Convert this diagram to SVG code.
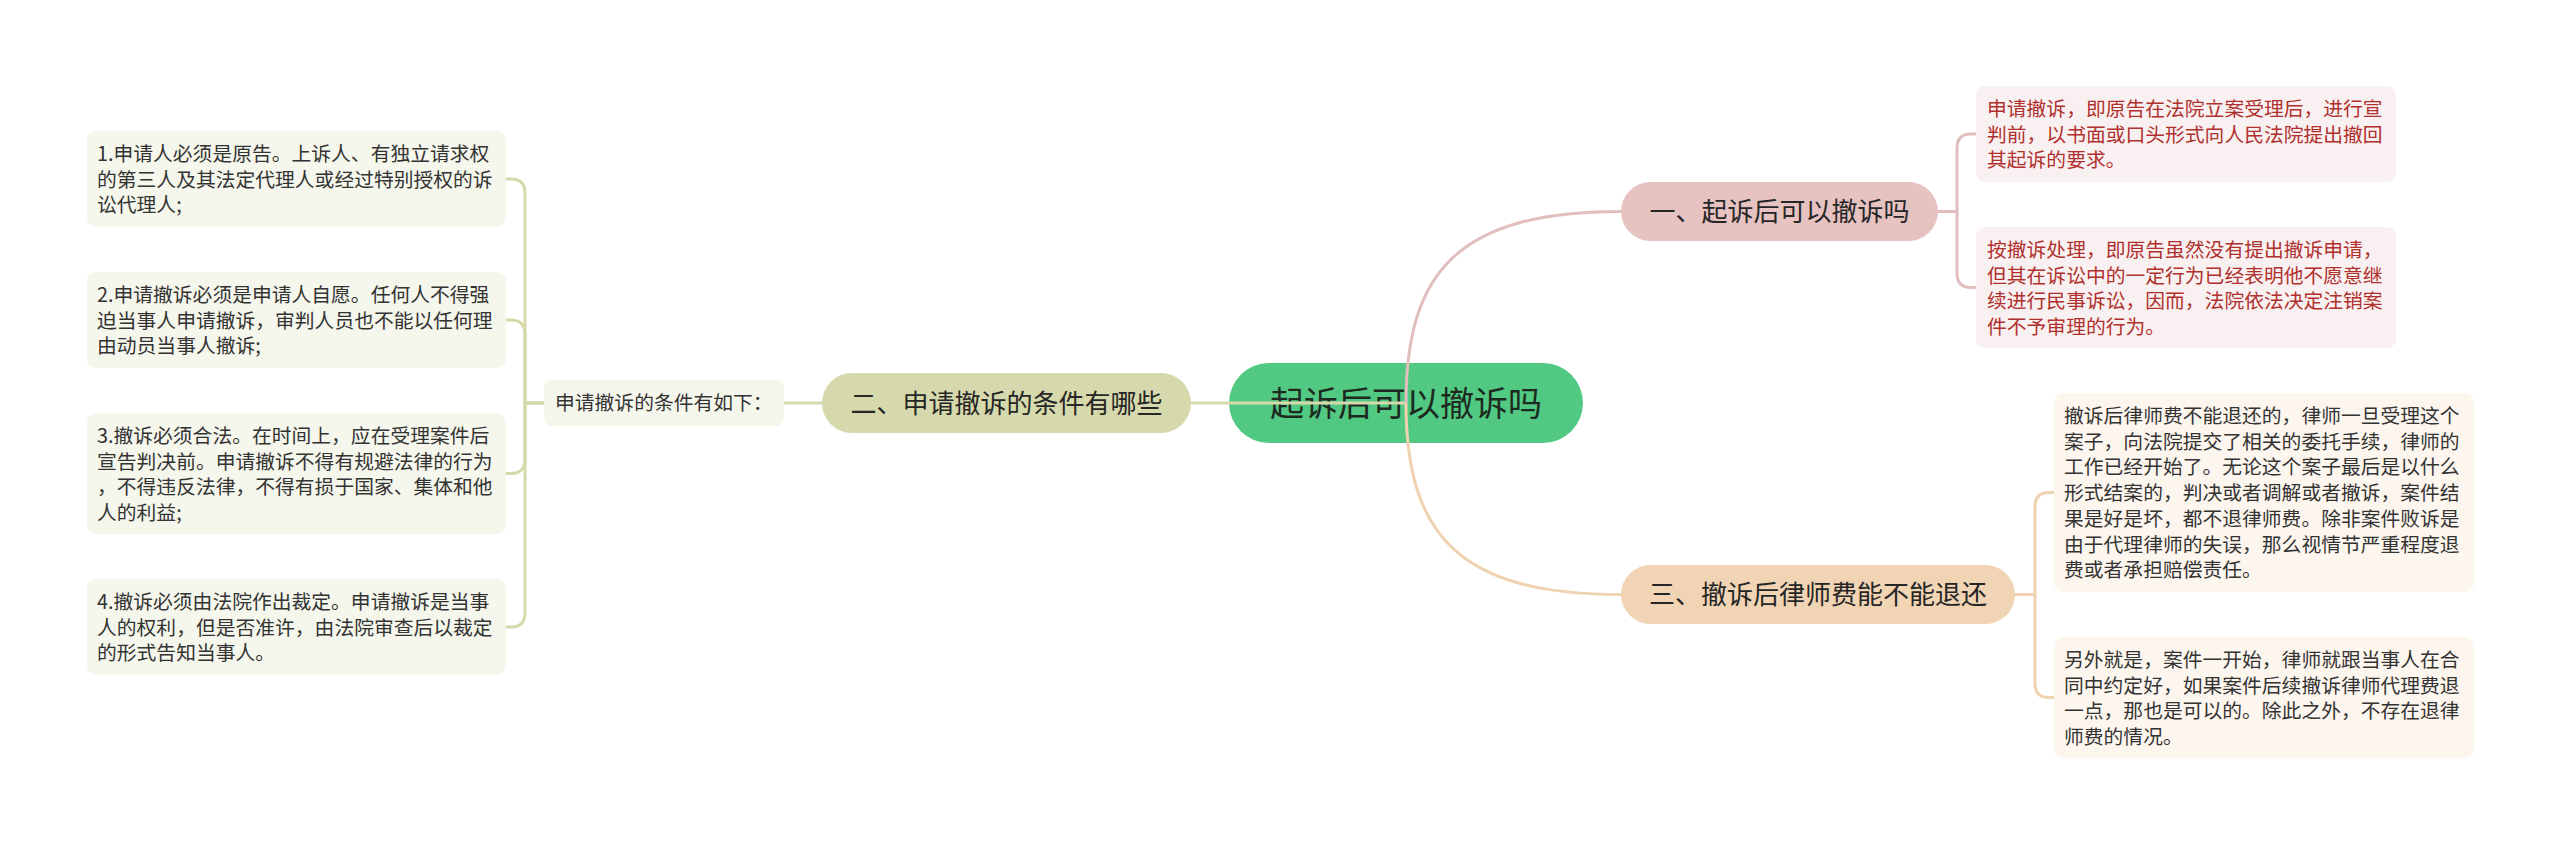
<svg xmlns="http://www.w3.org/2000/svg" width="2560" height="845" viewBox="0 0 2560 845">
<style>
text{font-family:"Microsoft YaHei","Noto Sans CJK SC","Noto Sans",sans-serif;}
.leaf{font-size:19.8px;fill:#333333;}
.red{font-size:19.8px;fill:#b0302e;}
.l1{font-size:26px;fill:#262626;text-anchor:middle;}
.root{font-size:34px;fill:#1c2a20;text-anchor:middle;}
.olive{fill:none;stroke:#d5d9ab;stroke-width:3;}
.pink{fill:none;stroke:#e2bfbf;stroke-width:3;}
.peach{fill:none;stroke:#efd2b0;stroke-width:3;}
.bo{fill:#f5f6ec;}
.bp{fill:#f9f1f1;}
.bc{fill:#fdf6ee;}
</style>
<rect width="2560" height="845" fill="#ffffff"/>

<g id="root">
<rect x="1229" y="363" width="354" height="80" rx="40" fill="#52c983"/>
<text class="root" x="1406" y="416">起诉后可以撤诉吗</text>
</g>

<g id="n2">
<rect x="822" y="373" width="369" height="60" rx="30" fill="#d6d9ab"/>
<text class="l1" x="1006.5" y="413">二、申请撤诉的条件有哪些</text>
</g>
<g id="n2a">
<rect class="bo" x="544" y="380" width="240" height="46" rx="8"/>
<text class="leaf" x="555" y="410">申请撤诉的条件有如下：</text>
</g>
<g id="n2a1">
<rect class="bo" x="87" y="131" width="419" height="96" rx="9"/>
<text class="leaf" x="97" y="161">1.申请人必须是原告。上诉人、有独立请求权</text>
<text class="leaf" x="97" y="186.7">的第三人及其法定代理人或经过特别授权的诉</text>
<text class="leaf" x="97" y="212.4">讼代理人;</text>
</g>
<g id="n2a2">
<rect class="bo" x="87" y="272" width="419" height="96" rx="9"/>
<text class="leaf" x="97" y="302">2.申请撤诉必须是申请人自愿。任何人不得强</text>
<text class="leaf" x="97" y="327.7">迫当事人申请撤诉，审判人员也不能以任何理</text>
<text class="leaf" x="97" y="353.4">由动员当事人撤诉;</text>
</g>
<g id="n2a3">
<rect class="bo" x="87" y="413" width="419" height="121" rx="9"/>
<text class="leaf" x="97" y="443">3.撤诉必须合法。在时间上，应在受理案件后</text>
<text class="leaf" x="97" y="468.7">宣告判决前。申请撤诉不得有规避法律的行为</text>
<text class="leaf" x="97" y="494.4">，不得违反法律，不得有损于国家、集体和他</text>
<text class="leaf" x="97" y="520.1">人的利益;</text>
</g>
<g id="n2a4">
<rect class="bo" x="87" y="579" width="419" height="96" rx="9"/>
<text class="leaf" x="97" y="609">4.撤诉必须由法院作出裁定。申请撤诉是当事</text>
<text class="leaf" x="97" y="634.7">人的权利，但是否准许，由法院审查后以裁定</text>
<text class="leaf" x="97" y="660.4">的形式告知当事人。</text>
</g>

<g id="n1">
<rect x="1621" y="182" width="317" height="59" rx="29.5" fill="#e6c2c1"/>
<text class="l1" x="1779.5" y="221">一、起诉后可以撤诉吗</text>
</g>
<g id="n1a">
<rect class="bp" x="1976" y="86" width="420" height="96" rx="9"/>
<text class="red" x="1987" y="116">申请撤诉，即原告在法院立案受理后，进行宣</text>
<text class="red" x="1987" y="141.7">判前，以书面或口头形式向人民法院提出撤回</text>
<text class="red" x="1987" y="167.4">其起诉的要求。</text>
</g>
<g id="n1b">
<rect class="bp" x="1976" y="227" width="420" height="121" rx="9"/>
<text class="red" x="1987" y="257">按撤诉处理，即原告虽然没有提出撤诉申请，</text>
<text class="red" x="1987" y="282.7">但其在诉讼中的一定行为已经表明他不愿意继</text>
<text class="red" x="1987" y="308.4">续进行民事诉讼，因而，法院依法决定注销案</text>
<text class="red" x="1987" y="334.1">件不予审理的行为。</text>
</g>

<g id="n3">
<rect x="1621" y="565" width="394" height="59" rx="29.5" fill="#f1d4b3"/>
<text class="l1" x="1818" y="604">三、撤诉后律师费能不能退还</text>
</g>
<g id="n3a">
<rect class="bc" x="2054" y="393" width="420" height="199" rx="9"/>
<text class="leaf" x="2064" y="423">撤诉后律师费不能退还的，律师一旦受理这个</text>
<text class="leaf" x="2064" y="448.7">案子，向法院提交了相关的委托手续，律师的</text>
<text class="leaf" x="2064" y="474.4">工作已经开始了。无论这个案子最后是以什么</text>
<text class="leaf" x="2064" y="500.1">形式结案的，判决或者调解或者撤诉，案件结</text>
<text class="leaf" x="2064" y="525.8">果是好是坏，都不退律师费。除非案件败诉是</text>
<text class="leaf" x="2064" y="551.5">由于代理律师的失误，那么视情节严重程度退</text>
<text class="leaf" x="2064" y="577.2">费或者承担赔偿责任。</text>
</g>
<g id="n3b">
<rect class="bc" x="2054" y="637" width="420" height="121" rx="9"/>
<text class="leaf" x="2064" y="667">另外就是，案件一开始，律师就跟当事人在合</text>
<text class="leaf" x="2064" y="692.7">同中约定好，如果案件后续撤诉律师代理费退</text>
<text class="leaf" x="2064" y="718.4">一点，那也是可以的。除此之外，不存在退律</text>
<text class="leaf" x="2064" y="744.1">师费的情况。</text>
</g>

<g id="connectors">
<path class="olive" d="M1406,403 H1191"/>
<path class="olive" d="M822,403 H784"/>
<path class="olive" d="M544,403 H525 V193 Q525,179 511,179 H506"/>
<path class="olive" d="M544,403 H525 V334 Q525,320 511,320 H506"/>
<path class="olive" d="M544,403 H525 V459.5 Q525,473.5 511,473.5 H506"/>
<path class="olive" d="M544,403 H525 V613 Q525,627 511,627 H506"/>
<path class="pink" d="M1406,403 C1406,270 1460,211.5 1621,211.5"/>
<path class="pink" d="M1938,211.5 H1957 V148 Q1957,134 1971,134 H1976"/>
<path class="pink" d="M1938,211.5 H1957 V273.5 Q1957,287.5 1971,287.5 H1976"/>
<path class="peach" d="M1406,403 C1406,536 1460,594.5 1621,594.5"/>
<path class="peach" d="M2015,594.5 H2035 V506.5 Q2035,492.5 2049,492.5 H2054"/>
<path class="peach" d="M2015,594.5 H2035 V683.5 Q2035,697.5 2049,697.5 H2054"/>
</g>
</svg>
